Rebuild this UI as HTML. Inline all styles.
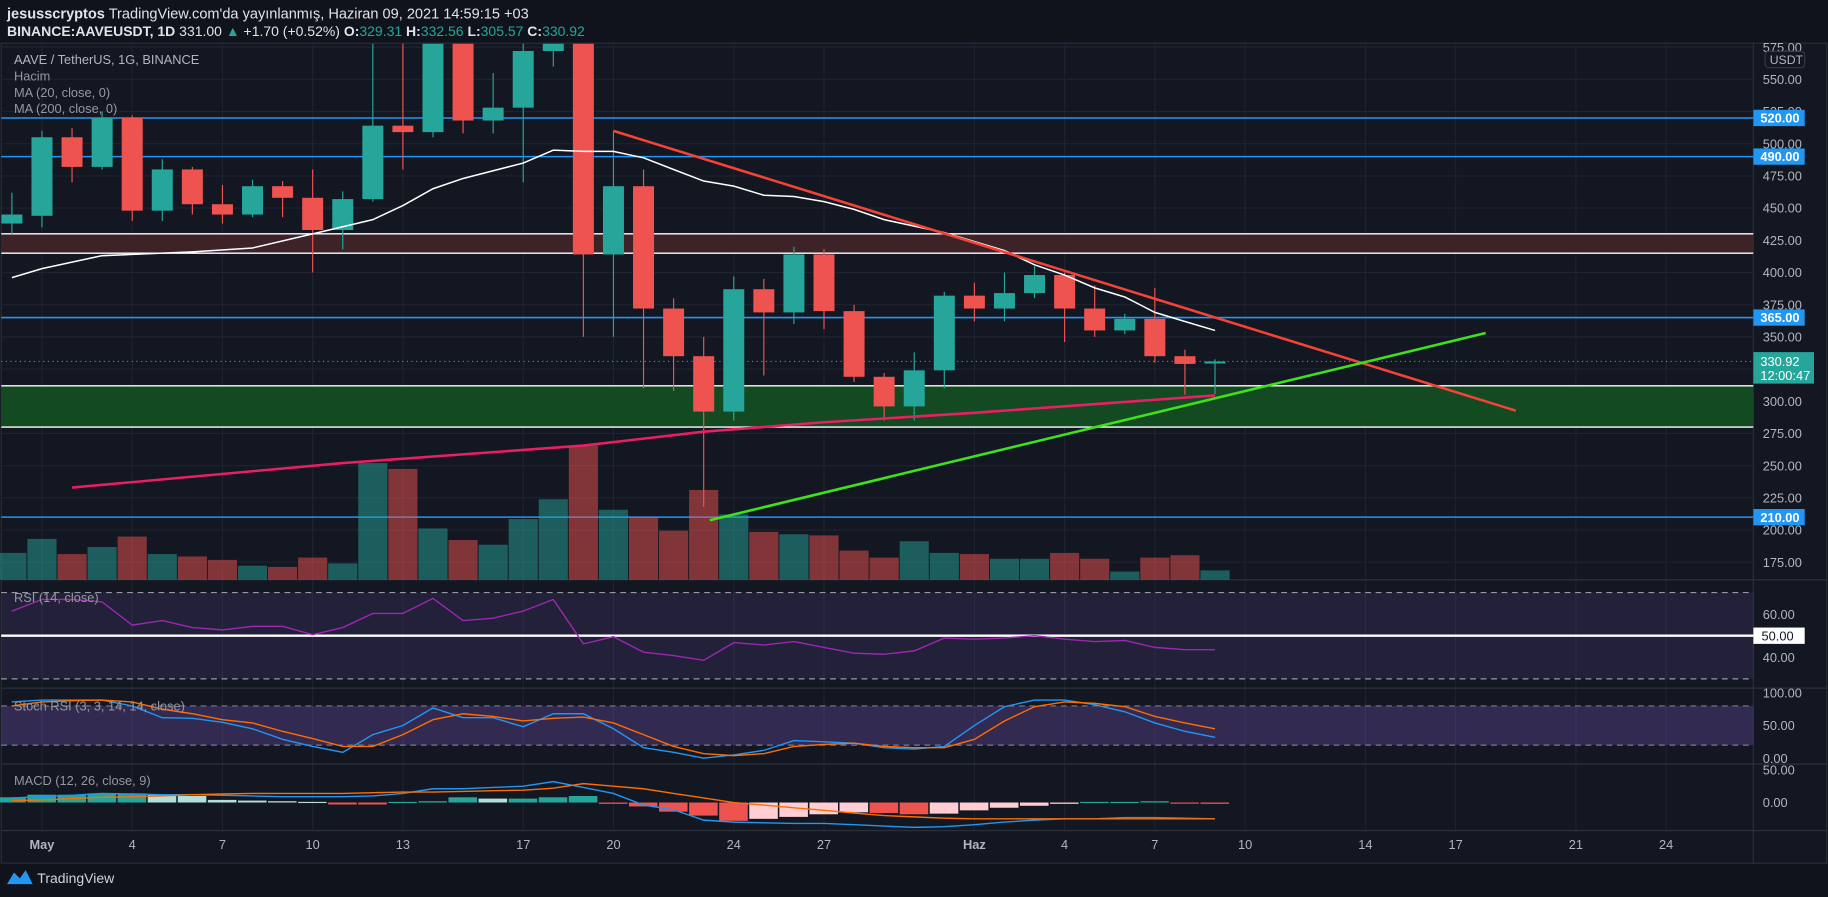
<!DOCTYPE html>
<html><head><meta charset="utf-8">
<style>
html,body{margin:0;padding:0;background:#10131b;overflow:hidden}
svg{display:block;font-family:"Liberation Sans",sans-serif}
</style></head>
<body>
<svg id="c" width="1828" height="897" viewBox="0 0 1568 769" preserveAspectRatio="none">
<defs><clipPath id="mainclip"><rect x="1" y="37.5" width="1503" height="460"/></clipPath></defs>
<rect x="0" y="0" width="1568" height="769" fill="#10131b"/>
<rect x="1" y="37" width="1566" height="703" fill="#131722" stroke="#2a2e39"/>
<text x="6" y="16" font-size="12.5" fill="#e0e3eb"><tspan font-weight="bold">jesusscryptos</tspan> TradingView.com'da yayınlanmış, Haziran 09, 2021 14:59:15 +03</text>
<text x="6" y="31" font-size="12" fill="#e0e3eb" font-weight="bold">BINANCE:AAVEUSDT, 1D <tspan font-weight="normal">331.00 </tspan><tspan fill="#26a69a">▲</tspan><tspan font-weight="normal"> +1.70 (+0.52%) </tspan>O:<tspan fill="#26a69a" font-weight="normal">329.31</tspan> H:<tspan fill="#26a69a" font-weight="normal">332.56</tspan> L:<tspan fill="#26a69a" font-weight="normal">305.57</tspan> C:<tspan fill="#26a69a" font-weight="normal">330.92</tspan></text>
<g id="grid"></g>
<g id="zones" clip-path="url(#mainclip)"></g>
<g id="vol"></g>
<g id="candles" clip-path="url(#mainclip)"></g>
<g id="lines" clip-path="url(#mainclip)"></g>
<g id="ind"></g>
<g id="axis"></g>
<text x="12" y="55" font-size="11" fill="#b2b5be">AAVE / TetherUS, 1G, BINANCE</text>
<text x="12" y="69" font-size="11" fill="#9598a1">Hacim</text>
<text x="12" y="83" font-size="11" fill="#9598a1">MA (20, close, 0)</text>
<text x="12" y="97" font-size="11" fill="#9598a1">MA (200, close, 0)</text>
<text x="12" y="516" font-size="11" fill="#9598a1">RSI (14, close)</text>
<text x="12" y="609" font-size="11" fill="#9598a1">Stoch RSI (3, 3, 14, 14, close)</text>
<text x="12" y="673" font-size="11" fill="#9598a1">MACD (12, 26, close, 9)</text>
<g>
<path d="M6 758 L12 748 L17 753 L22 746 L28 758 Z" fill="#2196f3"/>
<text x="32" y="757" font-size="12" fill="#d1d4dc">TradingView</text>
</g>
</svg>
<script>
const days=[-1,0,1,2,3,4,5,6,7,8,9,10,11,12,13,14,15,16,17,18,19,20,21,22,23,24,25,26,27,28,29,30,31,32,33,34,35,36,37,38,39];
const opens=[438,444,505,482,520,448,480,453,445,467,458,433,457,514,509,600,518,528,572,580,414,467,372,335,292,387,369,414,370,319,296,324,382,372,384,398,372,355,364,335,329.31];
const highs=[462,510,512,525,522,488,482,468,472,471,480,463,600,600,610,605,555,580,600,600,510,480,380,350,397,395,420,418,375,322,338,385,392,400,405,400,390,368,388,340,332.56];
const lows=[430,435,470,480,440,440,445,438,443,443,400,418,455,480,505,508,508,470,560,350,350,310,308,218,285,320,360,356,315,285,285,310,362,362,380,346,350,352,330,305,305.57];
const closes=[445,505,482,520,448,480,453,445,467,458,433,457,514,509,600,518,528,572,580,414,467,372,335,292,387,369,414,370,319,296,324,382,372,384,398,372,355,364,335,329,330.92];
const volumes=[23,35,22,28,37,22,20,17,12,11,19,14,100,95,44,34,30,52,69,115,60,54,42,77,56,41,39,38,25,19,33,23,22,18,18,23,18,7,19,21,8];
const ma20Days=[-1,0,2,5,7,9,11,12,13,14,16,17,18,19,20,21,22,23,24,25,26,27,28,29,30,31,32,33,34,35,36,37,38,39];
const ma20Vals=[396,403,413,416,419,430,441,452,465,473,485,495,494,494,489,480,471,467,460,459,455,449,441,436,431,424,417,406,398,388,381,369,362,355];
const ma200Days=[1,10,18,22,26,31,39];
const ma200Vals=[233,252,265.6,276.4,283.7,291,304.5];
const rsiVals=[61.4,66.8,66.8,65.7,54.9,57,53.8,52.7,54.3,54.3,50.5,53.8,60.3,60.3,67.3,57,58.1,61.4,66.8,46.2,49.5,42.4,40.8,38.6,46.8,45.7,47.3,44.6,41.9,41.4,43,48.9,48.4,48.9,50,48.4,47.3,47.8,44.6,43.5,43.5];
const stochK=[86,89,89,89,80,62,61,55,45,29,18,9,36,50,77,62,62,48,68,68,45,16,9,0,5,12,27,25,23,16,14,18,50,79,89,89,82,71,54,41,32];
const stochD=[80,86,88,89,86,75,68,59,54,41,30,18,18,36,59,68,64,57,61,63,54,36,18,7,4,7,18,21,23,18,16,16,29,57,79,86,84,79,64,54,45];
const macdVals=[7,9,11,14,13,12,12,11,10,9,9,9,10,14,21,21,23,25,32,23,14,-4,-11,-27,-30,-31,-32,-32,-34,-36,-38,-37,-34,-30,-27,-25,-25,-23,-23,-24,-25];
const signalVals=[3,4,6,8,9,10,12,13,14,14,14,14,15,16,16,17,18,19,22,29,25,21,14,7,0,-4,-8,-12,-16,-20,-22,-24,-25,-25,-25,-25,-25,-25,-25,-25,-25];
const histVals=[8,12,12,14,14,12,10,4,3,2,1,-3,-3,1,2,8,6,6,8,10,-2,-6,-14,-20,-28,-25,-22,-18,-15,-16,-18,-17,-12,-8,-5,-2,1,1,2,-1,-2];
const priceTicks=[175,200,225,250,275,300,325,350,375,400,425,450,475,500,525,550,575];
const hLevels=[520,490,365,210];
const redTrend=[[19,510],[49,292.7]];
const greenTrend=[[22.2,207.6],[48,353]];
const timeLabels=["May","4","7","10","13","17","20","24","27","Haz","4","7","10","14","17","21","24"];
const timeDays=[0,3,6,9,12,16,19,23,26,31,34,37,40,44,47,51,54];

const NS="http://www.w3.org/2000/svg";
const X=d=>36+d*25.8;
const YP=p=>344-(p-300)*1.104;
const YR=r=>545-(r-50)*1.85;
const YS=s=>650-s*0.56;
const YM=m=>688-m*0.56;
function mk(tag,attrs,parent){const e=document.createElementNS(NS,tag);for(const k in attrs)e.setAttribute(k,attrs[k]);document.getElementById(parent).appendChild(e);return e;}
function poly(xs,ys,fy,color,w,parent,name){
  const pts=xs.map((d,i)=>X(d).toFixed(1)+","+fy(ys[i]).toFixed(1)).join(" ");
  const e=mk("polyline",{points:pts,fill:"none",stroke:color,"stroke-width":w},parent);
  
  
  return e;
}
const G="#26a69a",R="#ef5350";
timeDays.forEach((d,i)=>{
  const l=mk("line",{x1:X(d),x2:X(d),y1:38,y2:712,stroke:"#1f2330","stroke-width":1},"grid");
  
  
  const t=mk("text",{x:X(d),y:728,"font-size":11,fill:"#b2b5be","text-anchor":"middle","font-weight":timeLabels[i]=="May"||timeLabels[i]=="Haz"?"bold":"normal"},"axis");
  t.textContent=timeLabels[i];
  
  
});
priceTicks.forEach(p=>{
  const l=mk("line",{x1:1,x2:1504,y1:YP(p),y2:YP(p),stroke:"#1f2330","stroke-width":1},"grid");
  
  
  const t=mk("text",{x:1512,y:YP(p)+4,"font-size":11,fill:"#b2b5be"},"axis");
  t.textContent=p.toFixed(2);
  
  
});
[[497],[590],[655],[712]].forEach(([y])=>{
  const l=mk("line",{x1:1,x2:1567,y1:y,y2:y,stroke:"#2a2e39","stroke-width":1.2},"grid");
  
  
});
const ax=mk("line",{x1:1504,x2:1504,y1:37,y2:740,stroke:"#2a2e39"},"grid");


function zone(p1,p2,fill,name){
  const r=mk("rect",{x:1,y:YP(p2),width:1503,height:YP(p1)-YP(p2),fill:fill},"zones");
  
  
  [p1,p2].forEach(p=>{const l=mk("line",{x1:1,x2:1504,y1:YP(p),y2:YP(p),stroke:"#ffffff","stroke-width":1.2},"zones");
  
  });
}
zone(415,430,"#3d2228","resistance-zone");
zone(280,312,"#144a22","support-zone");
hLevels.forEach(p=>{
  const l=mk("line",{x1:1,x2:1504,y1:YP(p),y2:YP(p),stroke:"#2196f3","stroke-width":1.3},"zones");
  
  
  const b=mk("rect",{x:1504,y:YP(p)-7,width:44,height:14,fill:"#2196f3"},"axis");
  
  
  const t=mk("text",{x:1510,y:YP(p)+4,"font-size":11,fill:"#fff","font-weight":"bold"},"axis");
  t.textContent=p.toFixed(2);
  
  
});
days.forEach((d,i)=>{
  const v=volumes[i]; const up=closes[i]>=opens[i];
  const r=mk("rect",{x:X(d)-12.5,y:497-v,width:25,height:v,fill:up?G:R,opacity:0.5},"vol");
  
  
});
days.forEach((d,i)=>{
  const up=closes[i]>=opens[i]; const c=up?G:R;
  const w=mk("line",{x1:X(d),x2:X(d),y1:YP(highs[i]),y2:YP(lows[i]),stroke:c,"stroke-width":1},"candles");
  
  
  const top=YP(Math.max(opens[i],closes[i])),bot=YP(Math.min(opens[i],closes[i]));
  const b=mk("rect",{x:X(d)-9,y:top,width:18,height:Math.max(1.2,bot-top),fill:c},"candles");
  
  
});
poly(ma20Days,ma20Vals,YP,"#ffffff",1.3,"lines","ma20-line");
poly(ma200Days,ma200Vals,YP,"#e91e63",2.2,"lines","ma200-line");
poly(redTrend.map(a=>a[0]),redTrend.map(a=>a[1]),YP,"#f44336",2.2,"lines","descending-trendline");
poly(greenTrend.map(a=>a[0]),greenTrend.map(a=>a[1]),YP,"#3fe01c",2.2,"lines","ascending-trendline");
const cp=mk("line",{x1:1,x2:1504,y1:YP(330.92),y2:YP(330.92),stroke:G,"stroke-dasharray":"1,3"},"lines");


const cb=mk("rect",{x:1504,y:YP(330.92)-8,width:52,height:27,fill:G},"axis");


const ct=mk("text",{x:1510,y:YP(330.92)+4,"font-size":11,fill:"#fff"},"axis");ct.textContent="330.92";


const ct2=mk("text",{x:1510,y:YP(330.92)+16,"font-size":11,fill:"#fff"},"axis");ct2.textContent="12:00:47";


const ub=mk("rect",{x:1514,y:44,width:34,height:14,rx:3,fill:"none",stroke:"#363a45"},"axis");


const ut=mk("text",{x:1518,y:55,"font-size":10.5,fill:"#b2b5be"},"axis");ut.textContent="USDT";


const rb=mk("rect",{x:1,y:YR(70),width:1503,height:YR(30)-YR(70),fill:"#7e57c2",opacity:0.15},"ind");


[70,30].forEach(v=>{const l=mk("line",{x1:1,x2:1504,y1:YR(v),y2:YR(v),stroke:"#9598a1","stroke-dasharray":"5,4"},"ind");

});
const r50=mk("line",{x1:1,x2:1504,y1:YR(50),y2:YR(50),stroke:"#fff","stroke-width":2},"ind");


poly(days,rsiVals,YR,"#9c27b0",1.2,"ind","rsi-line");
[[60,YR(60)],[40,YR(40)]].forEach(([v,y])=>{const t=mk("text",{x:1512,y:y+4,"font-size":11,fill:"#b2b5be"},"axis");t.textContent=v.toFixed(2);

});
const rlb=mk("rect",{x:1504,y:YR(50)-7,width:44,height:14,fill:"#fff"},"axis");


const rlt=mk("text",{x:1511,y:YR(50)+4,"font-size":11,fill:"#131722"},"axis");rlt.textContent="50.00";


const sb=mk("rect",{x:1,y:YS(80),width:1503,height:YS(20)-YS(80),fill:"#7e57c2",opacity:0.3},"ind");


[80,20].forEach(v=>{const l=mk("line",{x1:1,x2:1504,y1:YS(v),y2:YS(v),stroke:"#787b86","stroke-dasharray":"5,4"},"ind");

});
poly(days,stochK,YS,"#2196f3",1.2,"ind","stoch-k-line");
poly(days,stochD,YS,"#ff6d00",1.2,"ind","stoch-d-line");
[100,50,0].forEach(v=>{const t=mk("text",{x:1512,y:YS(v)+4,"font-size":11,fill:"#b2b5be"},"axis");t.textContent=v.toFixed(2);

});
days.forEach((d,i)=>{
  const h=histVals[i],prev=i?histVals[i-1]:0;
  let c=h>=0?(h>=prev?G:"#b2dfdb"):(h<=prev?R:"#ffcdd2");
  const y=h>=0?YM(h):YM(0);
  const r=mk("rect",{x:X(d)-12.5,y:y,width:24.5,height:Math.max(1,Math.abs(h)*0.56),fill:c},"ind");
  
  
});
poly(days,macdVals,YM,"#2196f3",1.2,"ind","macd-line");
poly(days,signalVals,YM,"#ff6d00",1.2,"ind","signal-line");
[50,0].forEach(v=>{const t=mk("text",{x:1512,y:YM(v)+4,"font-size":11,fill:"#b2b5be"},"axis");t.textContent=v.toFixed(2);

});
</script>
</body></html>
